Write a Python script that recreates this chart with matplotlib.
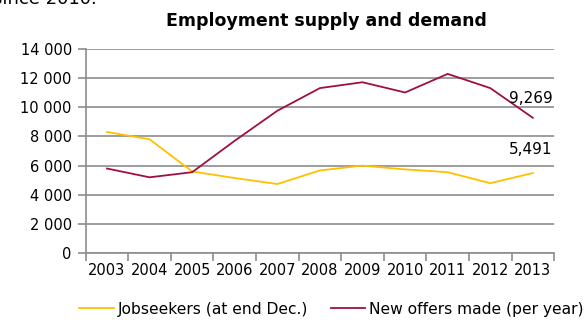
import matplotlib
matplotlib.use("Agg")
import matplotlib.pyplot as plt
import numpy as np

years = ["2003", "2004", "2005", "2006", "2007", "2008", "2009", "2010", "2011", "2012", "2013"]
jobseekers = [8300, 7800, 5600, 5150, 4740, 5670, 6000, 5740, 5550, 4800, 5491]
new_offers = [5800, 5200, 5550, 7700, 9750, 11300, 11700, 11000, 12270, 11300, 9269]
yticks = [0, 2000, 4000, 6000, 8000, 10000, 12000, 14000]
ytick_labels = ["0", "2 000", "4 000", "6 000", "8 000", "10 000", "12 000", "14 000"]

YELLOW = "#FFC000"
RED = "#9E1042"
GRID = "#8C8C8C"

fig = plt.figure(figsize=(5.87, 3.24), dpi=100)
ax = fig.add_axes([0.146, 0.218, 0.798, 0.632])

x = np.arange(len(years)) + 0.5
l1, = ax.plot(x, jobseekers, color=YELLOW, lw=1.3, label="Jobseekers (at end Dec.)")
l2, = ax.plot(x, new_offers, color=RED, lw=1.3, label="New offers made (per year)")

ax.set_xlim(0, len(years))
ax.set_ylim(0, 14000)
ax.set_yticks(yticks)
ax.set_yticklabels(ytick_labels, fontsize=10.5)
ax.yaxis.grid(True, color=GRID, lw=1.2)
ax.set_axisbelow(True)

ax.set_xticks(np.arange(len(years) + 1))
ax.set_xticklabels([])
ax.set_xticks(x, minor=True)
ax.set_xticklabels(years, minor=True, fontsize=10.5)
ax.tick_params(axis="x", which="minor", length=0, pad=7)
ax.tick_params(axis="x", which="major", length=6, color=GRID, width=1.2)
ax.tick_params(axis="y", length=6, color=GRID, width=1.2, pad=4)

for s in ["top", "right"]:
    ax.spines[s].set_visible(False)
ax.spines["left"].set_color(GRID)
ax.spines["left"].set_linewidth(1.2)
ax.spines["bottom"].set_color(GRID)
ax.spines["bottom"].set_linewidth(1.2)

ax.annotate(f"{new_offers[-1]:,}", (x[-1], new_offers[-1]), xytext=(20, 19),
            textcoords="offset pixels", ha="right", va="center", fontsize=11)
ax.annotate(f"{jobseekers[-1]:,}", (x[-1], jobseekers[-1]), xytext=(20, 24),
            textcoords="offset pixels", ha="right", va="center", fontsize=11)

fig.text(0.556, 0.935, "Employment supply and demand", ha="center", va="center",
         fontsize=12.5, fontweight="bold")
fig.text(-0.012, 0.975, "since 2010.", ha="left", va="bottom", fontsize=13)

fig.legend(handles=[l1, l2], loc="center", bbox_to_anchor=(0.565, 0.045), ncol=2,
           frameon=False, fontsize=11.2, handlelength=2.2, columnspacing=1.5,
           handletextpad=0.25)

fig.savefig("out.png", dpi=100)
